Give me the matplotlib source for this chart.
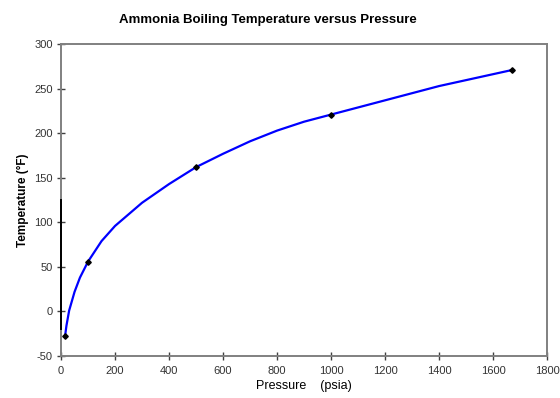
import matplotlib
matplotlib.use("Agg")
import matplotlib.pyplot as plt

# Measured data points (markers)
pressure_pts = [14.7, 100, 500, 1000, 1670]
temp_pts = [-28, 56, 162, 221, 271]

# Values
pressure_curve = [14.7, 20, 30, 50, 70, 100, 150, 200, 300, 400, 500, 600, 700, 800, 900, 1000, 1200, 1400, 1670]
temp_curve = [-28, -16, 1, 22, 38, 56, 79, 96, 122, 143, 162, 177, 191, 203, 213, 221, 237, 253, 271]

xticks = [0, 200, 400, 600, 800, 1000, 1200, 1400, 1600, 1800]
yticks = [-50, 0, 50, 100, 150, 200, 250, 300]

plt.rcParams['font.family'] = ['Liberation Sans', 'DejaVu Sans']
plt.rcParams['axes.unicode_minus'] = False

fig = plt.figure(figsize=(5.6, 3.98), dpi=100)
ax = fig.add_axes([0.109, 0.1055, 0.868, 0.7835])

ax.plot(pressure_curve, temp_curve, color='#0000FF', lw=1.6, zorder=2)
ax.plot(pressure_pts, temp_pts, linestyle='none', marker='D', ms=2.8, color='black', zorder=3)
# dark segment on left axis seen in reference
ax.plot([0, 0], [-20, 125], color='black', lw=1.4, zorder=4, clip_on=False)

ax.set_xlim(0, 1800)
ax.set_ylim(-50, 300)
ax.set_xticks(xticks)
ax.set_yticks(yticks)
for s in ax.spines.values():
    s.set_color('#808080')
    s.set_linewidth(1.4)
ax.tick_params(direction='inout', length=6, width=1, color='#404040', labelsize=8, labelcolor='#333333', pad=3)
ax.tick_params(axis='x', pad=4)

fig.text(268 / 560, 1 - 20 / 398, 'Ammonia Boiling Temperature versus Pressure',
         fontsize=9.5, fontweight='bold', ha='center', va='center')
ax.set_xlabel('Pressure    (psia)', fontsize=9, labelpad=3)
ax.set_ylabel('Temperature (°F)', fontsize=8.5, fontweight='bold', labelpad=4)

fig.savefig('out.png', dpi=100, facecolor='white')
